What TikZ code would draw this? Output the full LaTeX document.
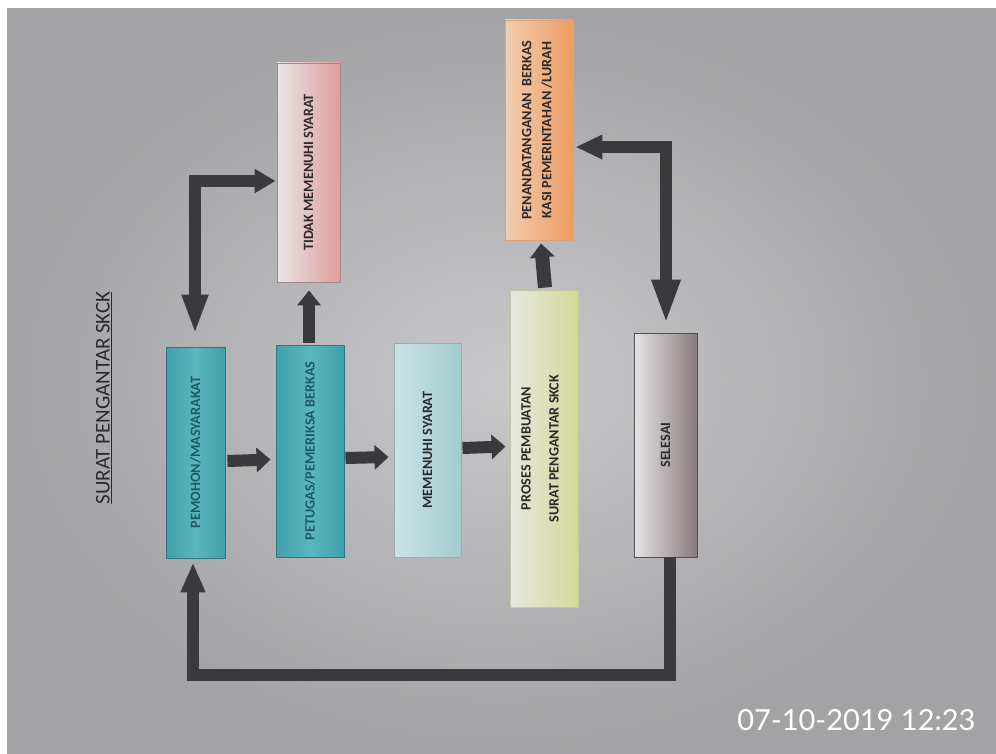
\documentclass[tikz,border=0pt]{standalone}
\usepackage{fontspec}
\setmainfont{Carlito}
\newfontfamily\stampfont{Lato}
\usetikzlibrary{arrows.meta}
\definecolor{paperin}{HTML}{C8C8CA}
\definecolor{paperout}{HTML}{A3A3A5}
\definecolor{arrc}{HTML}{3A3A3C}
\definecolor{txt}{HTML}{2A2A2C}
\definecolor{tealA}{HTML}{40A0AA}
\definecolor{tealB}{HTML}{5AB6BF}
\definecolor{tealD}{HTML}{2C7880}
\definecolor{tealT}{HTML}{1F5A63}
\definecolor{memL}{HTML}{CBE4E5}
\definecolor{memR}{HTML}{A3CBD0}
\definecolor{memD}{HTML}{8DB3B7}
\definecolor{proL}{HTML}{E6E8DE}
\definecolor{proR}{HTML}{D4D89A}
\definecolor{proD}{HTML}{C4C7A4}
\definecolor{selL}{HTML}{E4E4E6}
\definecolor{selR}{HTML}{8A7A7C}
\definecolor{selD}{HTML}{505052}
\definecolor{tidL}{HTML}{E8E4E6}
\definecolor{tidR}{HTML}{E09E9C}
\definecolor{tidD}{HTML}{9A8C8E}
\definecolor{penL}{HTML}{F1CDB0}
\definecolor{penR}{HTML}{EE9C62}
\definecolor{penD}{HTML}{DDA27A}
\begin{document}
\begin{tikzpicture}[x=1pt,y=-1pt,
  box/.style={draw, line width=0.9pt, rectangle, inner sep=0pt},
  lbl/.style={rotate=90, font=\bfseries\fontsize{14.2}{18}\selectfont, text=txt, align=center},
  blk/.style={draw=arrc, line width=12pt, line cap=butt, line join=miter},
]
% page and photo background
\fill[white] (0,0) rectangle (996,754);
\shade[inner color=paperin, outer color=paperout] (7,9) rectangle (996,754);
\useasboundingbox (0,0) rectangle (996,754);

% title
\node[rotate=90, font=\fontsize{21}{24}\selectfont, text=txt] (title) at (104,398) {\underline{SURAT PENGANTAR SKCK}};

% boxes
\node[box, draw=tealD, left color=tealA, right color=tealA, middle color=tealB,
      minimum width=59pt, minimum height=211pt] (pem) at (195.5,452.5) {};
\node[lbl, text=tealT] (pemt) at (pem.center) {PEMOHON/MASYARAKAT};

\node[box, draw=tealD, left color=tealA, right color=tealA, middle color=tealB,
      minimum width=68pt, minimum height=212pt] (pet) at (310,451) {};
\node[lbl, text=tealT] (pett) at (pet.center) {PETUGAS/PEMERIKSA BERKAS};

\node[box, draw=memD, left color=memL, right color=memR,
      minimum width=67pt, minimum height=214pt] (mem) at (427.5,450) {};
\node[lbl] (memt) at (mem.center) {MEMENUHI SYARAT};

\node[box, draw=proD, left color=proL, right color=proR,
      minimum width=68pt, minimum height=317pt] (pro) at (544,448.5) {};
\node[lbl, font=\bfseries\fontsize{14.2}{28}\selectfont] (prot) at ([xshift=-4pt]pro.center) {PROSES PEMBUATAN\\SURAT PENGANTAR SKCK};

\node[box, draw=selD, left color=selL, right color=selR,
      minimum width=63pt, minimum height=224pt] (sel) at (665.5,445) {};
\node[lbl] (selt) at (sel.center) {SELESAI};

\node[box, draw=tidD, left color=tidL, right color=tidR,
      minimum width=63pt, minimum height=219pt] (tid) at (308.5,172.5) {};
\node[lbl] (tidt) at (tid.center) {TIDAK MEMENUHI SYARAT};

\node[box, draw=penD, left color=penL, right color=penR,
      minimum width=68pt, minimum height=220pt] (pen) at (539,130) {};
\node[lbl, font=\bfseries\fontsize{14.2}{20}\selectfont] (pent) at ([xshift=-2pt]pen.center) {PENANDATANGANAN\ \ BERKAS\\KASI PEMERINTAHAN /LURAH};

% straight block arrows
\draw[blk, -{Triangle[width=24pt,length=14pt]}]
  ([xshift=2pt,yshift=-8.5pt]pem.east) -- ([xshift=-5pt,yshift=-8.5pt]pet.west);
\draw[blk, -{Triangle[width=24pt,length=14pt]}]
  ([xshift=1pt,yshift=-7pt]pet.east) -- ([xshift=-5pt,yshift=-7pt]mem.west);
\draw[blk, -{Triangle[width=24pt,length=14pt]}]
  ([xshift=1pt,yshift=2pt]mem.east) -- ([xshift=-4pt,yshift=2pt]pro.west);
\draw[blk, -{Triangle[width=23pt,length=15pt]}]
  ([xshift=-1pt,yshift=2pt]pet.north) -- ([xshift=0.5pt,yshift=-8pt]tid.south);
\draw[blk, line width=14pt, -{Triangle[width=24pt,length=14pt]}]
  ([xshift=1pt,yshift=2pt]pro.north) -- ([xshift=2pt,yshift=-3pt]pen.south);

% loop arrows
\draw[blk, {Triangle[width=24pt,length=40pt]}-{Triangle[width=23pt,length=21pt]}]
  ([xshift=-0.5pt,yshift=12pt]pem.north) |- ([xshift=-1pt,yshift=-8.5pt]tid.west);
\draw[blk, {Triangle[width=23pt,length=27pt]}-{Triangle[width=26pt,length=45pt]}]
  ([xshift=2pt,yshift=-17pt]pen.east) -| ([xshift=0.5pt,yshift=8pt]sel.north);
\draw[blk, -{Triangle[width=23pt,length=30pt]}]
  ([xshift=4.5pt]sel.south) -- ++(0,118) -| ([xshift=-2.5pt,yshift=-4pt]pem.south);

% camera timestamp
\node[anchor=base east, font=\stampfont\fontsize{29}{32}\selectfont, text=white] (stamp) at (979,730) {07-10-2019 12:23};
\end{tikzpicture}
\end{document}
